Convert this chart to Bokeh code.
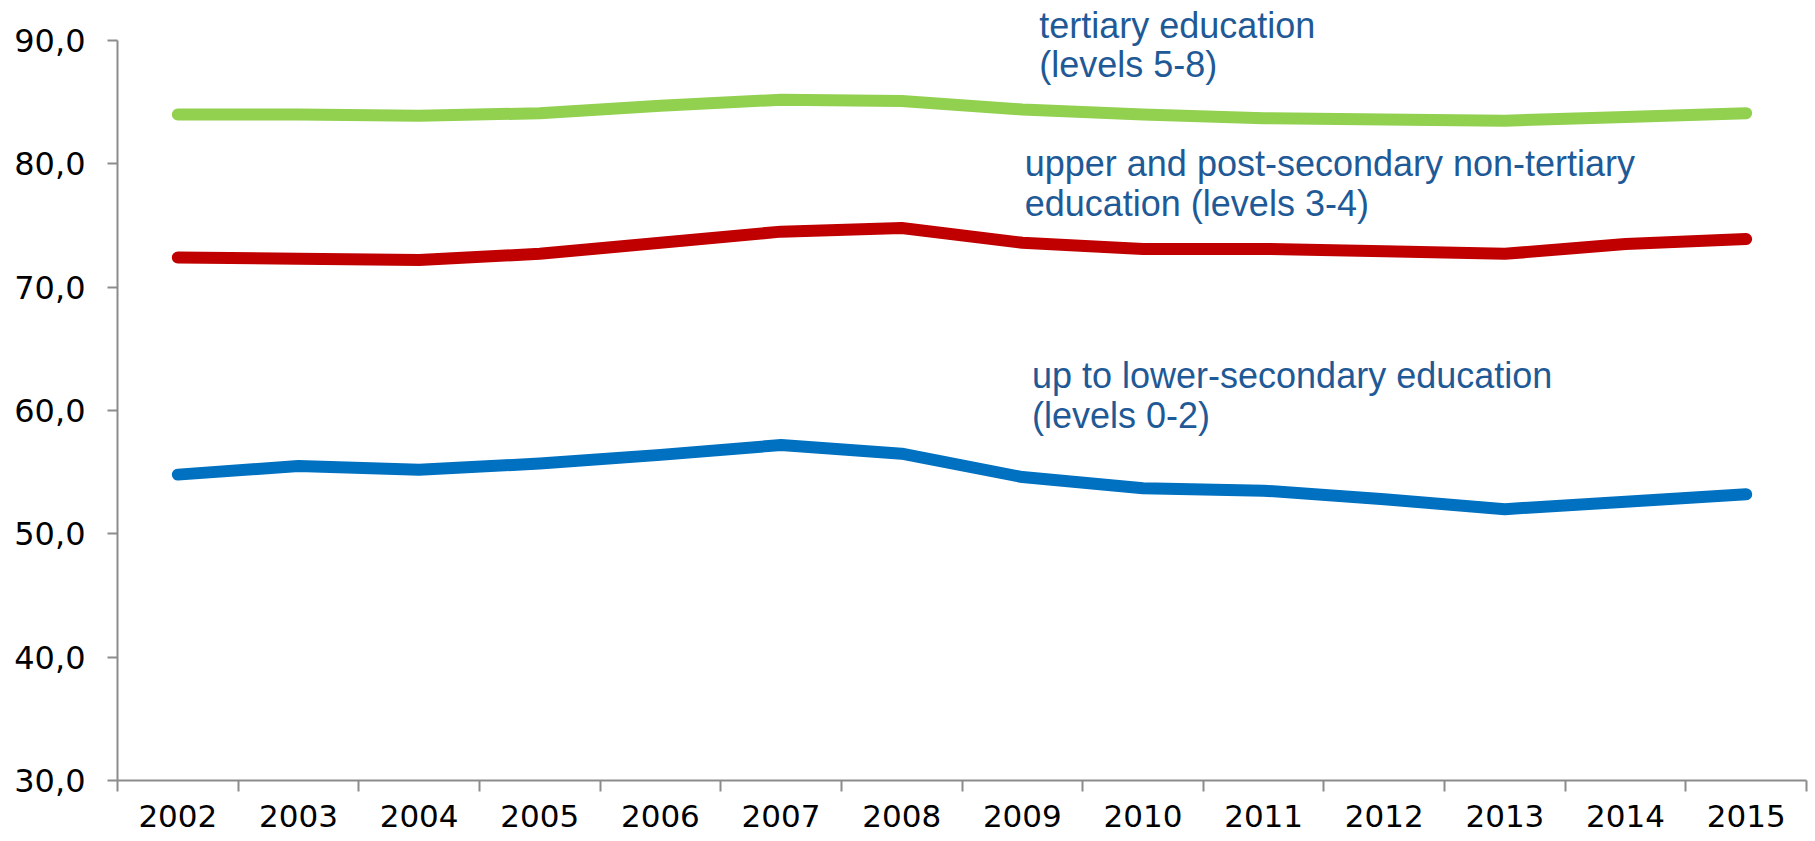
from bokeh.plotting import figure
from bokeh.models import Range1d, FixedTicker, CustomJSTickFormatter, ColumnDataSource
from bokeh.core.properties import value
from bokeh.embed import file_html
from bokeh.resources import INLINE

years = [2002, 2003, 2004, 2005, 2006, 2007, 2008, 2009, 2010, 2011, 2012, 2013, 2014, 2015]
tertiary = [84.0, 84.0, 83.9, 84.1, 84.7, 85.2, 85.1, 84.4, 84.0, 83.7, 83.6, 83.5, 83.8, 84.1]
upper_secondary = [72.4, 72.3, 72.2, 72.7, 73.6, 74.5, 74.8, 73.6, 73.1, 73.1, 72.9, 72.7, 73.5, 73.9]
lower_secondary = [54.8, 55.5, 55.2, 55.7, 56.4, 57.2, 56.5, 54.6, 53.7, 53.5, 52.8, 52.0, 52.6, 53.2]
y_ticks = [30, 40, 50, 60, 70, 80, 90]

series_labels = [
    "tertiary education\n(levels 5-8)",
    "upper and post-secondary non-tertiary\neducation (levels 3-4)",
    "up to lower-secondary education\n(levels 0-2)",
]
label_x = [7.64, 7.52, 7.58]
label_y = [92.9, 81.7, 64.5]

colors = ["#92D050", "#C00000", "#0070C0"]
axis_grey = "#8C8C8C"

xs = [i + 0.5 for i in range(len(years))]

p = figure(width=1815, height=841, output_backend="svg", toolbar_location=None,
           x_range=Range1d(0, len(years)), y_range=Range1d(30, 93.24),
           min_border_left=117, min_border_right=9, min_border_top=0, min_border_bottom=61)
p.outline_line_color = None
p.xgrid.grid_line_color = None
p.ygrid.grid_line_color = None
p.background_fill_color = "white"
p.border_fill_color = "white"

for vals, c in zip([tertiary, upper_secondary, lower_secondary], colors):
    p.line(xs, vals, line_color=c, line_width=12, line_cap="round", line_join="round")

src = ColumnDataSource(dict(x=label_x, y=label_y, t=series_labels))
p.text(x="x", y="y", text="t", source=src, text_font=value("Liberation Sans"),
       text_font_size="36px", text_color="#1F5A96", text_baseline="top",
       text_align="left", text_line_height=0.97)

# x axis
xa = p.xaxis[0]
xa.ticker = FixedTicker(ticks=xs, minor_ticks=list(range(len(years) + 1)))
xa.formatter = CustomJSTickFormatter(args=dict(years=[str(y) for y in years]),
                                     code="return years[Math.round(tick - 0.5)];")
xa.axis_line_color = axis_grey
xa.axis_line_width = 2
xa.major_tick_line_color = None
xa.major_tick_out = 11
xa.major_tick_in = 0
xa.minor_tick_line_color = axis_grey
xa.minor_tick_line_width = 2
xa.minor_tick_out = 11
xa.minor_tick_in = 0
xa.major_label_text_font = "DejaVu Sans"
xa.major_label_text_font_size = "31px"
xa.major_label_text_color = "#000000"
xa.major_label_standoff = 13

# y axis
ya = p.yaxis[0]
ya.ticker = FixedTicker(ticks=y_ticks, minor_ticks=[])
ya.formatter = CustomJSTickFormatter(code="return tick.toFixed(1).replace('.', ',');")
ya.bounds = (30, 90)
ya.axis_line_color = axis_grey
ya.axis_line_width = 2
ya.major_tick_line_color = axis_grey
ya.major_tick_line_width = 2
ya.major_tick_out = 10
ya.major_tick_in = 0
ya.minor_tick_line_color = None
ya.major_label_text_font = "DejaVu Sans"
ya.major_label_text_font_size = "32px"
ya.major_label_text_color = "#000000"
ya.major_label_standoff = 22

open("out.html", "w").write(file_html(p, INLINE))
